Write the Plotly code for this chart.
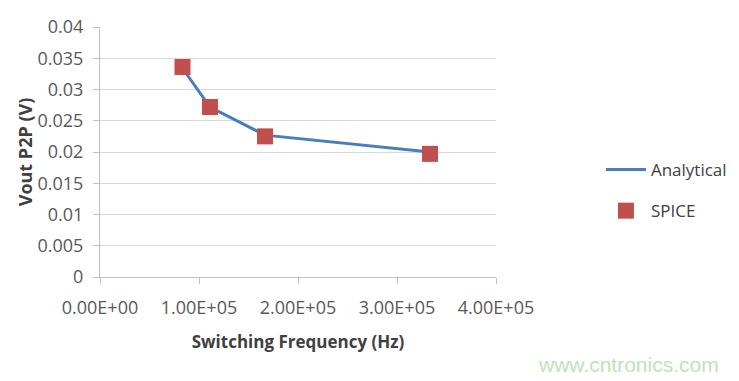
import plotly.graph_objects as go

freq = [83333, 111111, 166667, 333333]
analytical = [0.0334, 0.0272, 0.0227, 0.0200]
spice = [0.0336, 0.0272, 0.0225, 0.0197]

x_tickvals = [0, 100000, 200000, 300000, 400000]
x_ticktext = ["0.00E+00", "1.00E+05", "2.00E+05", "3.00E+05", "4.00E+05"]
y_tickvals = [0, 0.005, 0.01, 0.015, 0.02, 0.025, 0.03, 0.035, 0.04]
y_ticktext = ["0", "0.005", "0.01", "0.015", "0.02", "0.025", "0.03", "0.035", "0.04"]

FONT = "Open Sans, Liberation Sans, sans-serif"

fig = go.Figure()
fig.add_trace(go.Scatter(x=freq, y=analytical, mode="lines", name="Analytical",
                         legendgroup="a",
                         line=dict(color="#4a7ebb", width=3)))
fig.add_trace(go.Scatter(x=freq, y=spice, mode="markers", name="SPICE",
                         legendgroup="b",
                         marker=dict(symbol="square", size=16, color="#c0504d",
                                     line=dict(width=0))))

fig.update_layout(
    width=739, height=381,
    paper_bgcolor="white", plot_bgcolor="white",
    margin=dict(l=92, r=251, t=19, b=112, autoexpand=False),
    font=dict(family=FONT, color="#595959", size=18),
    showlegend=True,
    legend=dict(x=1.265, y=0.5, xanchor="left", yanchor="top",
                font=dict(size=17, color="#404040"),
                bgcolor="rgba(0,0,0,0)", tracegroupgap=16, itemwidth=40,
                borderwidth=0),
    xaxis=dict(range=[0, 400000], tickvals=x_tickvals, ticktext=x_ticktext,
               showgrid=False, zeroline=False, showline=True, linecolor="#bfbfbf",
               linewidth=1, ticks="outside", ticklen=6, tickcolor="#bfbfbf",
               ticklabelstandoff=8, automargin=False,
               title=dict(text="<b>Switching Frequency (Hz)</b>", font=dict(size=17, color="#404040"),
                          standoff=18)),
    yaxis=dict(range=[0, 0.04], tickvals=y_tickvals, ticktext=y_ticktext,
               showgrid=True, gridcolor="#d9d9d9", gridwidth=1, zeroline=False,
               showline=True, linecolor="#bfbfbf", linewidth=1,
               ticks="outside", ticklen=6, tickcolor="#bfbfbf",
               ticklabelstandoff=6, automargin=False,
               title=dict(text="<b>Vout P2P (V)</b>", font=dict(size=18, color="#404040"),
                          standoff=0)),
)

fig.add_annotation(text="www.cntronics.com", xref="paper", yref="paper",
                   x=1.335, y=-0.352, showarrow=False,
                   xanchor="center", yanchor="middle",
                   font=dict(family="Liberation Sans, Arial, sans-serif", size=21, color="#c2e2b5"))

fig.write_html("out.html")
